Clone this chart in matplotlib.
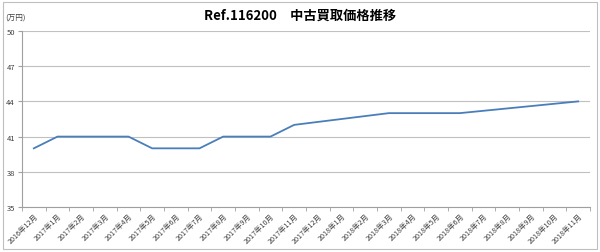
import matplotlib
matplotlib.use("Agg")
import matplotlib.pyplot as plt
from matplotlib.patches import Rectangle

plt.rcParams['font.family'] = ['Noto Sans CJK JP', 'DejaVu Sans']

months = ["2016年12月", "2017年1月", "2017年2月", "2017年3月", "2017年4月", "2017年5月",
          "2017年6月", "2017年7月", "2017年8月", "2017年9月", "2017年10月", "2017年11月",
          "2017年12月", "2018年1月", "2018年2月", "2018年3月", "2018年4月", "2018年5月",
          "2018年6月", "2018年7月", "2018年8月", "2018年9月", "2018年10月", "2018年11月"]
prices = [40, 41, 41, 41, 41, 40, 40, 40, 41, 41, 41, 42,
          42.25, 42.5, 42.75, 43, 43, 43, 43, 43.2, 43.4, 43.6, 43.8, 44]
yticks = [35, 38, 41, 44, 47, 50]
title = "Ref.116200　中古買取価格推移"
unit = "(万円)"

fig = plt.figure(figsize=(6.0, 2.53), dpi=100)
ax = fig.add_axes([22/600, 1-208/253, (590-22)/600, (208-32)/253])

x = list(range(len(months)))
ax.plot(x, prices, color="#4a7ebb", lw=1.3)

ax.set_xlim(-0.5, len(months) - 0.5)
ax.set_ylim(35, 50)
ax.set_yticks(yticks)
ax.set_yticklabels([str(v) for v in yticks], fontsize=5.5, color="#404040")
ax.set_xticks(x)
ax.set_xticklabels(months, rotation=45, ha="right", rotation_mode="anchor", fontsize=5.2, color="#404040")
ax.set_xticks([i - 0.5 for i in range(len(months) + 1)], minor=True)
ax.tick_params(axis="x", which="major", length=0, pad=3)
ax.tick_params(axis="x", which="minor", length=3, color="#a0a0a0")
ax.tick_params(axis="y", length=3, color="#a0a0a0", pad=2)
ax.grid(axis="y", color="#c0c0c0", lw=0.8)
ax.set_axisbelow(True)
for s in ["top", "right"]:
    ax.spines[s].set_visible(False)
for s in ["left", "bottom"]:
    ax.spines[s].set_color("#a0a0a0")
    ax.spines[s].set_linewidth(0.8)

fig.text(0.5, 1 - 16/253, title, ha="center", va="center", fontsize=9.5, fontweight="bold")
fig.text(5/600, 1 - 19/253, unit, ha="left", va="center", fontsize=5.5, color="#404040")

fig.patches.append(Rectangle((3/600, 3/253), 594/600, 247/253, transform=fig.transFigure,
                             fill=False, edgecolor="#bfbfbf", lw=0.8))

fig.savefig("out.png", dpi=100)
